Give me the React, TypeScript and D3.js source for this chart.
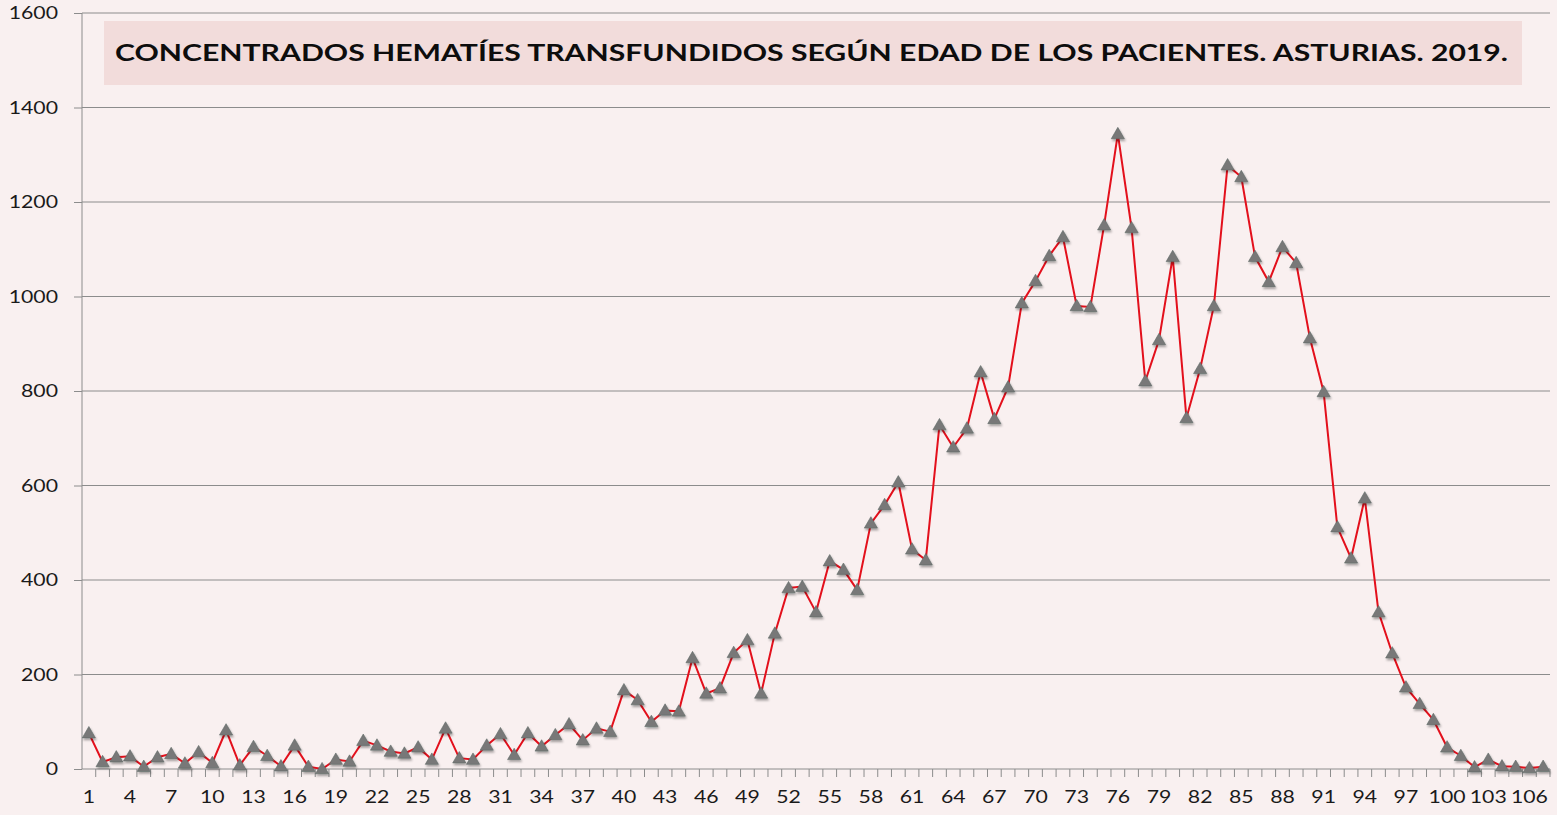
import { useEffect, useRef } from "react";
import * as d3 from "d3";

// ages 1..107
const ages: number[] = d3.range(1, 108);

const units: number[] = [
  76, 15, 25, 27, 5, 25, 32, 12, 36, 13,
  82, 8, 47, 28, 6, 50, 5, 0, 20, 16,
  60, 50, 37, 33, 46, 20, 86, 23, 20, 50,
  74, 30, 76, 48, 72, 95, 61, 86, 79, 167,
  146, 100, 124, 122, 235, 160, 171, 246, 273, 160,
  287, 383, 386, 332, 440, 422, 379, 520, 559, 607,
  465, 442, 728, 681, 721, 840, 741, 808, 986, 1033,
  1086, 1126, 980, 978, 1151, 1344, 1145, 821, 908, 1084,
  743, 847, 980, 1278, 1253, 1084, 1031, 1105, 1071, 912,
  798, 512, 446, 573, 332, 245, 173, 138, 104, 46,
  28, 4, 20, 6, 5, 2, 5,
];

const yTicks: number[] = [0, 200, 400, 600, 800, 1000, 1200, 1400, 1600];
const xTickLabels: number[] = ages.filter((a) => (a - 1) % 3 === 0);

const title = "CONCENTRADOS HEMATÍES TRANSFUNDIDOS SEGÚN EDAD DE LOS PACIENTES. ASTURIAS. 2019.";

export default function App() {
  const svgRef = useRef<SVGSVGElement>(null);

  useEffect(() => {
    document.body.style.margin = "0";
    if (!svgRef.current) return;
    const svg = d3.select(svgRef.current);
    svg.selectAll("*").remove();

    const W = 1557;
    const H = 815;
    const margin = { top: 13, right: 7, bottom: 46, left: 82 };
    const width = W - margin.left - margin.right;
    const height = H - margin.top - margin.bottom;
    const stretch = 1.25; // labels in the source are horizontally wide

    svg.append("rect").attr("width", W).attr("height", H).attr("fill", "#f9f0f0");

    const defs = svg.append("defs");
    const f = defs.append("filter").attr("id", "shadow").attr("x", "-50%").attr("y", "-50%").attr("width", "200%").attr("height", "200%");
    f.append("feDropShadow").attr("dx", 1).attr("dy", 2).attr("stdDeviation", 1.2).attr("flood-color", "#000").attr("flood-opacity", 0.35);

    const g = svg.append("g").attr("transform", `translate(${margin.left},${margin.top})`);

    const x = d3.scaleBand<number>().domain(ages).range([0, width]);
    const y = d3.scaleLinear().domain([0, 1600]).range([height, 0]);

    // gridlines
    g.append("g")
      .selectAll("line")
      .data(yTicks.filter((t) => t > 0))
      .enter()
      .append("line")
      .attr("x1", 0)
      .attr("x2", width)
      .attr("y1", (d) => y(d))
      .attr("y2", (d) => y(d))
      .attr("stroke", "#8c8c8c")
      .attr("stroke-width", 1);

    // title box
    svg.append("rect")
      .attr("x", 104).attr("y", 21)
      .attr("width", 1418).attr("height", 64)
      .attr("fill", "#f2dcdb");
    svg.append("text")
      .attr("x", 115).attr("y", 61)
      .attr("textLength", 1393)
      .attr("lengthAdjust", "spacingAndGlyphs")
      .attr("font-family", "Lato, 'Open Sans', sans-serif")
      .attr("font-weight", "bold")
      .attr("font-size", 23.5)
      .attr("fill", "#0d0d0d")
      .text(title);

    // Y axis
    const yAxis = g.append("g")
      .call(d3.axisLeft(y).tickValues(yTicks).tickSize(8).tickFormat(() => ""));
    yAxis.selectAll("path, line").attr("stroke", "#8c8c8c");
    yAxis.select(".domain").attr("d", `M0,${height}V0`);
    g.append("g")
      .selectAll("text")
      .data(yTicks)
      .enter()
      .append("text")
      .attr("transform", (d) => `translate(-24,${y(d)}) scale(${stretch},1)`)
      .attr("dy", "0.36em")
      .attr("text-anchor", "end")
      .attr("font-family", "Lato, sans-serif")
      .attr("font-size", 17)
      .attr("fill", "#1a1a1a")
      .text((d) => String(d));

    // X axis: ticks at every category boundary
    const xg = g.append("g").attr("transform", `translate(0,${height})`);
    xg.append("line").attr("x1", 0).attr("x2", width).attr("stroke", "#8c8c8c");
    xg.selectAll(".tk")
      .data(ages)
      .enter()
      .append("line")
      .attr("class", "tk")
      .attr("x1", (d) => x(d)! + x.bandwidth())
      .attr("x2", (d) => x(d)! + x.bandwidth())
      .attr("y1", 0)
      .attr("y2", 8)
      .attr("stroke", "#8c8c8c");
    xg.selectAll(".lbl")
      .data(xTickLabels)
      .enter()
      .append("text")
      .attr("class", "lbl")
      .attr("transform", (d) => `translate(${x(d)! + x.bandwidth() / 2},34) scale(${stretch},1)`)
      .attr("text-anchor", "middle")
      .attr("font-family", "Lato, sans-serif")
      .attr("font-size", 17)
      .attr("fill", "#1a1a1a")
      .text((d) => String(d));

    const cx = (i: number) => x(ages[i])! + x.bandwidth() / 2;

    const line = d3.line<number>()
      .x((_, i) => cx(i))
      .y((d) => y(d));

    g.append("path")
      .datum(units)
      .attr("fill", "none")
      .attr("stroke", "#e3101c")
      .attr("stroke-width", 2)
      .attr("d", line);

    const tri = d3.symbol().type(d3.symbolTriangle).size(75);
    g.selectAll(".pt")
      .data(units)
      .enter()
      .append("path")
      .attr("class", "pt")
      .attr("transform", (d, i) => `translate(${cx(i)},${y(d) + 1})`)
      .attr("d", tri)
      .attr("fill", "#787878")
      .attr("stroke", "#5e6a66")
      .attr("stroke-width", 0.6)
      .attr("filter", "url(#shadow)");
  }, []);

  return (
    <div style={{ width: 1557, height: 815 }}>
      <svg ref={svgRef} width={1557} height={815} style={{ display: "block" }}></svg>
    </div>
  );
}
